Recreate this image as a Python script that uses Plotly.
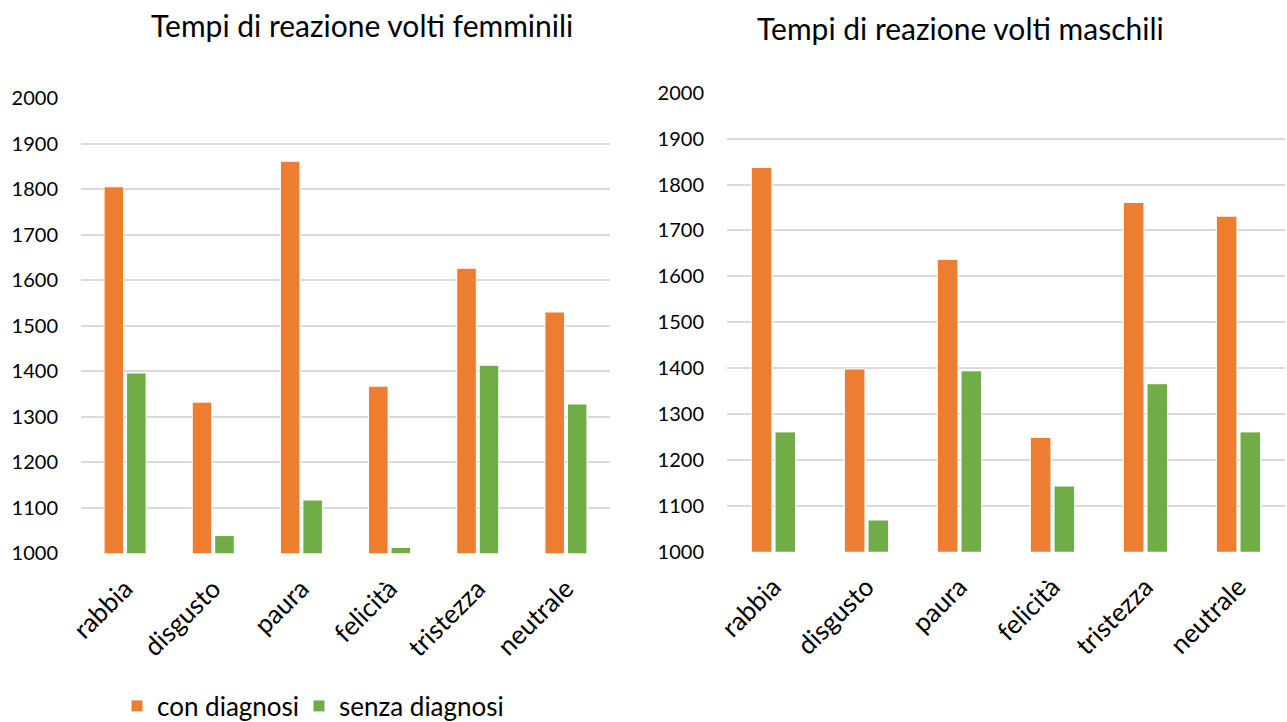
import plotly.graph_objects as go

categories = ["rabbia", "disgusto", "paura", "felicità", "tristezza", "neutrale"]
femminili_con = [1805, 1332, 1861, 1367, 1626, 1530]
femminili_senza = [1396, 1039, 1117, 1013, 1413, 1328]
maschili_con = [1837, 1398, 1637, 1249, 1761, 1731]
maschili_senza = [1261, 1069, 1394, 1143, 1366, 1261]
series_names = ["con diagnosi", "senza diagnosi"]
titles = ["Tempi di reazione volti femminili", "Tempi di reazione volti maschili"]
tick_vals = list(range(1000, 2001, 100))

ORANGE = "#ED7D31"
GREEN = "#70AD47"
FONT = "Lato"
W, H = 1287, 722

fig = go.Figure()
fig.add_trace(go.Bar(x=categories, y=femminili_con, name=series_names[0], marker=dict(color=ORANGE, line=dict(color="white", width=1)), xaxis="x", yaxis="y", legend="legend"))
fig.add_trace(go.Bar(x=categories, y=femminili_senza, name=series_names[1], marker=dict(color=GREEN, line=dict(color="white", width=1)), xaxis="x", yaxis="y", legend="legend2"))
fig.add_trace(go.Bar(x=categories, y=maschili_con, name=series_names[0], marker=dict(color=ORANGE, line=dict(color="white", width=1)), xaxis="x2", yaxis="y2", showlegend=False))
fig.add_trace(go.Bar(x=categories, y=maschili_senza, name=series_names[1], marker=dict(color=GREEN, line=dict(color="white", width=1)), xaxis="x2", yaxis="y2", showlegend=False))

def px_x(v):
    return v / W

def px_y(v):
    return (H - v) / H

xcommon = dict(tickangle=-45, tickfont=dict(family=FONT, size=26, color="#000000"), showgrid=False,
               showline=False, ticks="", zeroline=False, automargin=False, ticklabelstandoff=14)
ycommon = dict(range=[1000, 2000], tickvals=tick_vals, tickfont=dict(family=FONT, size=20, color="#000000"),
               showgrid=True, gridcolor="#D9D9D9", gridwidth=2, zeroline=False, showline=False,
               ticklabelstandoff=22, automargin=False)
legend_common = dict(orientation="h", y=px_y(706), xanchor="left", yanchor="middle",
                     font=dict(family=FONT, size=26, color="#000000"), itemwidth=30,
                     bgcolor="rgba(0,0,0,0)")

fig.update_layout(
    width=W, height=H,
    margin=dict(l=0, r=0, t=0, b=0, autoexpand=False),
    paper_bgcolor="white", plot_bgcolor="white",
    barmode="group", bargap=0.49, bargroupgap=0.13,
    xaxis=dict(domain=[px_x(81), px_x(610)], anchor="y", **xcommon),
    yaxis=dict(domain=[px_y(553.3), px_y(98)], anchor="x", **ycommon),
    xaxis2=dict(domain=[px_x(727), px_x(1285)], anchor="y2", **xcommon),
    yaxis2=dict(domain=[px_y(551.7), px_y(92.7)], anchor="x2", **ycommon),
    legend=dict(x=px_x(117), **legend_common),
    legend2=dict(x=px_x(299), **legend_common),
    showlegend=True,
    annotations=[
        dict(text=titles[0], x=px_x(362), y=px_y(25), xref="paper", yref="paper", showarrow=False,
             font=dict(family=FONT, size=30, color="#000000"), xanchor="center", yanchor="middle"),
        dict(text=titles[1], x=px_x(960), y=px_y(28), xref="paper", yref="paper", showarrow=False,
             font=dict(family=FONT, size=30, color="#000000"), xanchor="center", yanchor="middle"),
    ],
)

fig.write_html("out.html", config={"displayModeBar": False},
               post_script="document.body.style.margin='0px';document.body.style.overflow='hidden';")
